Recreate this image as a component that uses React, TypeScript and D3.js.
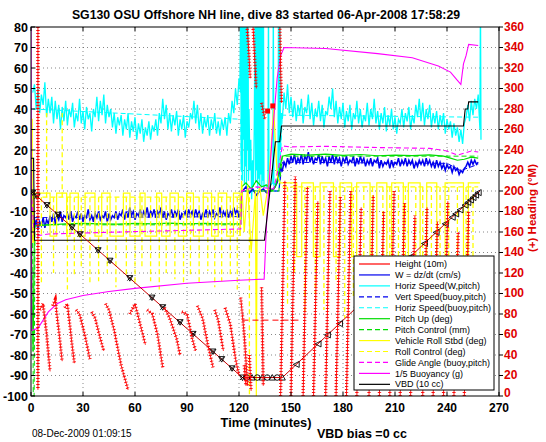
import React from "react";
import * as d3 from "d3";

const FONT = "'Liberation Sans', Arial, Helvetica, sans-serif";

// ---------- axes / ticks ----------
const timeTicks = [0, 30, 60, 90, 120, 150, 180, 210, 240, 270];
const leftTicks = [-100, -90, -80, -70, -60, -50, -40, -30, -20, -10, 0, 10, 20, 30, 40, 50, 60, 70, 80];
const rightTicks = [0, 20, 40, 60, 80, 100, 120, 140, 160, 180, 200, 220, 240, 260, 280, 300, 320, 340, 360];

// ---------- Horiz Speed (W,pitch) cyan, 1-min samples ----------
const hspdDiveStart = 1;
const hspdDive = [48, 52, 40, 50, 38, 47, 42, 53, 36, 45,
  38, 46, 33, 44, 35, 42, 30, 41, 34, 44,
  32, 40, 36, 43, 31, 38, 34, 45, 33, 39,
  30, 41, 35, 38, 29, 40, 36, 46, 34, 44,
  37, 47, 33, 42, 36, 40, 31, 38, 28, 36,
  32, 37, 27, 35, 30, 38, 26, 34, 29, 36,
  25, 33, 28, 35, 24, 31, 27, 34, 25, 32,
  29, 35, 27, 38, 33, 45, 35, 42, 30, 38,
  29, 37, 32, 39, 27, 35, 30, 37, 26, 34,
  31, 38, 35, 44, 33, 42, 30, 38, 28, 36,
  31, 37, 27, 35, 30, 38, 28, 34, 27, 35,
  30, 36, 27, 38, 33, 44, 38, 50, 42, 55, 48];
const hspdApogee: [number, number][] = [[120.5, 50], [121, 95], [121.3, 10], [121.6, 95], [121.9, 5], [122.2, 95], [122.5, 25], [122.8, 95], [123.1, 3], [123.4, 95], [123.7, 12], [124, 95], [124.3, 2], [124.6, 95], [124.9, 20], [125.2, 95], [125.5, 5], [125.8, 40], [126.3, 10], [126.8, 25], [127.3, -4], [127.8, 15], [128.3, 2], [128.8, 30], [129.3, 95], [129.6, 4], [129.9, 95], [130.2, 10], [130.5, 95], [130.8, 1], [131.1, 95], [131.4, 6], [131.7, 95], [132, 3], [132.3, 95], [132.6, 8], [132.9, 95], [133.2, 2], [133.5, 95], [133.8, 5], [134.1, 95], [134.4, 2], [135.5, 3], [136.7, 1], [137, 95], [137.3, 2], [139.5, 4], [139.8, 95], [140.1, 3], [142.5, 5], [142.8, 95], [143.1, 6], [143.6, 95], [143.9, 20], [144.5, 38]];
const hspdClimbStart = 145;
const hspdClimb = [35, 48, 40, 52, 38, 46, 36, 44, 34, 42,
  37, 45, 33, 41, 38, 47, 35, 43, 32, 40,
  36, 44, 34, 42, 31, 39, 37, 46, 40, 50,
  36, 44, 33, 41, 35, 43, 31, 39, 34, 42,
  30, 38, 35, 44, 33, 40, 31, 37, 34, 43,
  32, 40, 35, 45, 33, 39, 30, 38, 33, 41,
  29, 37, 32, 40, 30, 36, 28, 35, 33, 40,
  31, 38, 34, 41, 30, 37, 33, 42, 36, 45,
  34, 43, 32, 40, 35, 42, 31, 38, 33, 39,
  30, 37, 32, 38, 28, 35, 30, 34, 26, 33,
  27, 31, 24, 30, 23, 33, 36, 42, 34, 44,
  37, 45, 40, 47];
const hspdEnd: [number, number][] = [[258, 47], [259, 30], [259.3, 95], [259.6, 25]];

// ---------- W = dz/dt blue ----------
const wStart: [number, number][] = [[0, 0], [1, -5]];
const wDiveStart = 2;
const wDive = [-18, -14, -19, -15, -17, -13, -18, -14, -16, -12,
  -15, -11, -16, -12, -14, -10, -15, -12, -13, -11,
  -14, -10, -15, -12, -13, -10, -14, -11, -15, -12,
  -13, -9, -14, -12, -15, -11, -13, -10, -14, -12,
  -13, -10, -15, -11, -14, -12, -13, -10, -14, -11,
  -12, -9, -14, -10, -13, -8, -12, -10, -14, -11,
  -12, -9, -13, -10, -12, -8, -13, -10, -12, -9,
  -13, -10, -12, -8, -13, -10, -14, -11, -12, -9,
  -13, -10, -12, -9, -14, -11, -12, -10, -13, -9,
  -12, -10, -13, -9, -12, -10, -14, -11, -12, -9,
  -13, -10, -12, -9, -13, -11, -12, -8, -13, -10,
  -12, -9, -13, -10, -12, -8, -11, -9, -13, -10];
const wApogee: [number, number][] = [[121.5, -3], [122, 0], [124, 2], [126, -1], [128, 1], [130, -2], [132, 0], [134, 1], [136, -1], [138, 0], [140, 1], [142, 4], [143, 8], [144, 11]];
const wClimbStart = 145;
const wClimb = [10, 14, 12, 16, 13, 17, 14, 18, 13, 16,
  14, 18, 13, 17, 15, 19, 14, 17, 13, 16,
  15, 18, 13, 17, 14, 16, 12, 17, 14, 18,
  13, 17, 14, 16, 12, 16, 14, 17, 13, 15,
  14, 17, 12, 16, 13, 17, 14, 16, 12, 15,
  13, 16, 12, 15, 14, 16, 11, 15, 12, 14,
  13, 15, 11, 15, 12, 14, 13, 16, 12, 15,
  13, 16, 12, 15, 13, 15, 11, 14, 12, 15,
  13, 15, 12, 16, 13, 15, 12, 14, 11, 15,
  12, 14, 11, 13, 10, 13, 11, 12, 9, 12,
  10, 11, 8, 10, 9, 11, 12, 14, 12, 15,
  13, 15, 13, 14];

// ---------- model (buoy,pitch) speeds, dashed ----------
const vspdBuoyT = [2, 121, 121.5, 143, 145, 240, 248, 258];
const vspdBuoyV = [-13, -12.5, 0, 0, 14, 13.5, 10, 13];
const hspdBuoyT = [1, 121, 121.5, 143, 145, 258];
const hspdBuoyV = [40, 35, 0, 0, 37, 36];

// ---------- pitch ----------
const pitchT = [0, 0.6, 1.2, 2, 10, 20, 30, 40, 50, 60, 70, 80, 90, 100, 110, 121, 121.5, 124, 127, 130, 133, 136, 139, 141, 143, 145, 150, 160, 170, 180, 190, 200, 210, 220, 230, 238, 242, 246, 250, 254, 258];
const pitchV = [0, -50, -78, -17, -16.5, -16, -15.8, -16, -16.2, -15.8, -16, -15.7, -16, -15.8, -16, -16, 2, 4, 1, 5, 2, 3, 0, 2, 9, 17, 18, 17.5, 18, 17.4, 17.8, 17.2, 17.5, 17.3, 17.6, 17, 16, 15, 15.5, 16.5, 16];
const pitchCtlT = [0.8, 1.3, 1.8, 2.3, 121, 121.5, 143, 145, 258];
const pitchCtlV = [-2, -100, -100, -16.5, -16.5, 0, 0, 17, 17];

// ---------- roll ----------
const rollT = [0, 0.7, 1.5, 11, 14.8, 20.6, 22.5, 27.3, 31.2, 36.9, 40.8, 45.6, 53.3, 57.1, 62.9, 65.8, 72.5, 75.4, 80.2, 85, 89.8, 93.7, 99.4, 104.2, 108, 112.9, 116.8, 120.6];
const rollV = [35, -25, -1, -22, -1, -22, -1, -22, -1, -22, -1, -22, -1, -22, -1, -22, -1, -22, -1, -22, -1, -22, -1, -22, -1, -22, -1, -22];
const rollApT = [120.6, 121.5, 123, 125, 127, 129.5, 130, 130.5, 132, 134, 137, 140, 142, 143.5];
const rollApV = [-22, 5, -20, 3, -30, 0, -100, -3, 2, -12, 3, 40, 8, 4];
const rollClT = [143.5, 144.7, 153.3, 156.2, 162.9, 166.8, 174.5, 178.3, 185, 187.9, 195.6, 199.5, 205.3, 208.1, 214.8, 217.7, 224.5, 228.3, 234.1, 238.9, 249.5, 252.3, 259];
const rollClV = [4, 4, -32, 4, -32, 4, -32, 4, -32, 4, -32, 4, -32, 4, -32, 4, -32, 4, -32, 4, -32, 4, 4];
const rollCtlDiveBase = -3;
const rollCtlDiveT = [9, 18, 6, 13, 21, 25, 29, 34, 39, 44, 49, 55, 60, 64, 69, 74, 78, 83, 88, 92, 97, 102, 106, 110, 115, 119, 126];
const rollCtlDiveV = [38, 38, -45, -40, -48, -42, -38, -46, -44, -40, -47, -42, -45, -38, -44, -48, -40, -43, -46, -41, -45, -39, -47, -44, -42, -48, -100];
const rollCtlClimbBase = 2;
const rollCtlClimbT = [148, 152, 158, 164, 169, 176, 181, 186, 192, 197, 203, 207, 212, 216, 222, 226, 231, 236, 241, 246, 251, 255];
const rollCtlClimbV = [-55, -40, -60, -50, -58, -45, -62, -52, -55, -48, -60, -50, -58, -45, -62, -55, -60, -50, -65, -70, -72, -60];

// ---------- glide angle & buoyancy ----------
const glideT = [0, 1, 2, 10, 30, 60, 90, 121, 121.5, 130, 140, 143, 145, 150, 170, 200, 230, 240, 246, 250, 254, 258];
const glideV = [0, -10, -22, -21, -20.5, -19.8, -19.2, -18.5, 0, 2, 1, 12, 22, 21.5, 21.8, 21.2, 20.8, 19.5, 17.5, 18.5, 19.5, 19];
const buoyT = [0, 0.4, 4, 7, 10, 15, 20, 30, 45, 60, 90, 120, 134.5, 136, 139, 142, 144, 146, 170, 200, 220, 235, 242, 246, 248, 249.5, 251, 252.5, 258];
const buoyV = [80, -68, -67, -63, -59, -55, -53, -51, -49, -47.5, -45, -43.5, -43, -14, 25, 55, 66, 70, 69.5, 67, 65, 61, 58, 54, 52, 62, 66, 71.5, 71];

// ---------- VBD ----------
const vbdT = [0, 1.5, 2, 134.7, 141, 143.5, 144.5, 249.5, 250.5, 252, 252.5, 258];
const vbdV = [16, 16, -24, -24, 24, 24, 31.7, 31.7, 40, 40, 43.5, 43.5];

// ---------- height / depth ----------
const heightT = [122, 155];
const heightV = [-63, -63];
const depthT = [0, 122, 145, 259];
const depthV = [0, -91, -91, 0];
const diveMarkT = [1, 3.5, 9.2, 15.6, 23.7, 28.3, 38.7, 45.6, 57, 69.8, 76, 86, 93.5, 105, 110, 116, 122];
const diveMarkV = [-0.7, -2.6, -6.9, -11.6, -17.7, -21.1, -28.9, -34, -42.5, -52, -56.7, -64, -69.7, -78.3, -82, -86.5, -91];
const bottomMarkT = [124.6, 127.5, 130.5, 133.4, 136.3, 139.2, 142, 145];
const bottomMarkV = [-91, -91, -91, -91, -91, -91, -91, -91];
const climbMarkT = [153, 165.6, 171, 178, 188, 197, 209, 218.7, 227, 233.7, 239, 243, 245, 247.5, 250.4, 252, 253.5, 255, 256.5, 258];
const climbMarkV = [-84.6, -74.6, -70.2, -64.7, -56.7, -49.5, -39.9, -32.2, -25.6, -20.2, -16, -12.8, -11.2, -9.2, -6.9, -5.6, -4.4, -3.2, -2, -0.8];

// ---------- heading (deg, right axis), red + markers ----------
const headingTeeth: [number, number][][] = [
  [[4, 360], [4, 6]],
  [[5, 84], [7, 90], [9, 60], [11, 24]],
  [[12.5, 88], [14, 94], [16, 64], [18, 34]],
  [[19.5, 86], [21, 90], [23, 60], [25, 32]],
  [[26, 84], [28, 80], [31, 60], [34, 36]],
  [[35, 82], [37, 76], [40, 56], [42, 44]],
  [[43, 90], [45, 84], [48, 64], [52, 30], [56, 6]],
  [[57, 80], [60, 90], [63, 70], [66, 50]],
  [[67, 84], [70, 80], [73, 60], [76, 28]],
  [[77, 86], [80, 76], [84, 56], [86, 40]],
  [[87, 82], [90, 80], [93, 56], [95, 44]],
  [[96, 88], [99, 76], [102, 50], [105, 28]],
  [[106, 84], [108, 74], [111, 44]],
  [[112, 86], [115, 70], [118, 36], [120, 20]],
  [[121, 96], [123, 60], [125, 10]],
  [[124.5, 364], [125.5, 340], [126.5, 310]],
  [[128, 364], [129, 330], [130, 300]],
  [[133, 286], [135, 270]],
  [[133, 106], [133.5, 60], [134, 10]],
  [[143.5, 364], [144, 320], [144.5, 286]],
  [[123, 30], [124, 10]],
  [[126, 40], [127, 5]],
  [[144, 0], [146.5, 210]],
  [[150, 0], [152.5, 214]],
  [[157, 0], [159.5, 204]],
  [[163, 0], [165.5, 190]],
  [[170, 0], [172.5, 200]],
  [[176, 0], [178.5, 194]],
  [[182, 0], [184.5, 200]],
  [[188, 0], [190.5, 184]],
  [[195, 0], [197.5, 196]],
  [[201, 0], [203.5, 180]],
  [[207, 0], [209.5, 200]],
  [[213, 0], [215.5, 188]],
  [[219, 0], [221.5, 176]],
  [[226, 0], [228.5, 184]],
  [[232, 0], [234.5, 170]],
  [[238, 0], [240.5, 190]],
  [[244, 0], [246.5, 160]],
  [[250, 0], [252.5, 180]],
];
const headingSquaresT = [136.5, 139.5];
const headingSquaresV = [278, 283];

// ---------- legend ----------
const DASH = "5 3";
const legendLabels = ["Height (10m)", "W = dz/dt (cm/s)", "Horiz Speed(W,pitch)", "Vert Speed(buoy,pitch)", "Horiz Speed(buoy,pitch)", "Pitch Up (deg)", "Pitch Control (mm)", "Vehicle Roll Stbd (deg)", "Roll Control (deg)", "Glide Angle (buoy,pitch)", "1/5 Buoyancy (g)", "VBD (10 cc)"];
const legendColors = ["#ff0000", "#0000ee", "#00ffff", "#0000ee", "#00ffff", "#00dd00", "#00dd00", "#ffff00", "#ffff00", "#ff00ff", "#ff00ff", "#000000"];
const legendDashed = [false, false, false, true, true, false, true, false, true, true, false, false];

const L = 31, R = 499, T = 27, B = 396;

export default function App() {
  const x = d3.scaleLinear().domain([0, 270]).range([L, R]);
  const y = d3.scaleLinear().domain([-100, 80]).range([B, T]);
  const yr = d3.scaleLinear().domain([0, 360]).range([B, T]);
  const ln = d3.line<number[]>().x(d => x(d[0])).y(d => y(d[1]));
  const lnStep = d3.line<number[]>().x(d => x(d[0])).y(d => y(d[1])).curve(d3.curveStepAfter);
  const lnR = d3.line<number[]>().x(d => x(d[0])).y(d => yr(d[1]));
  const grid = (t0: number, vals: number[]) => vals.map((v, i) => [t0 + i, v]);
  const zip = (ts: number[], vs: number[]) => ts.map((t, i) => [t, vs[i]]);

  const cyanPts = [...grid(hspdDiveStart, hspdDive), ...hspdApogee, ...grid(hspdClimbStart, hspdClimb), ...hspdEnd];
  const bluePts = [...wStart, ...grid(wDiveStart, wDive), ...wApogee, ...grid(wClimbStart, wClimb)];
  const headingPath = headingTeeth.map(tooth => lnR(tooth)).join(" ");

  const rollCtlSpikes = [
    ...rollCtlDiveT.map((t, i) => ({ t, base: rollCtlDiveBase, v: rollCtlDiveV[i] })),
    ...rollCtlClimbT.map((t, i) => ({ t, base: rollCtlClimbBase, v: rollCtlClimbV[i] })),
  ];

  const triDown = "M-3,-2.5L3,-2.5L0,3Z";
  const xMark = "M-2.5,-2.5L2.5,2.5M2.5,-2.5L-2.5,2.5";
  const triLeft = "M3,-3L3,3L-3,0Z";
  const triUp = "M-3,2.5L3,2.5L0,-3Z";

  const legX = 354, legY = 256, legW = 140, legH = 134;
  const rowH = 10.94;

  return (
    <svg width={546} height={442} style={{ position: "absolute", left: 0, top: 0, background: "#fff" }} fontFamily={FONT}>
      <defs>
        <clipPath id="plot">
          <rect x={L} y={T} width={R - L} height={B - T} />
        </clipPath>
      </defs>
      <rect x={0} y={0} width={546} height={442} fill="#fff" />

      <g stroke="#555" strokeWidth={0.7} strokeDasharray="1 3">
        {leftTicks.filter(v => v > -100 && v < 80).map(v => (
          <line key={"gy" + v} x1={L} x2={R} y1={y(v)} y2={y(v)} />
        ))}
        {timeTicks.filter(t => t > 0 && t < 270).map(t => (
          <line key={"gx" + t} x1={x(t)} x2={x(t)} y1={T} y2={B} />
        ))}
      </g>

      <g clipPath="url(#plot)" fill="none">
        <path d={ln(zip(hspdBuoyT, hspdBuoyV))!} stroke="#00ffff" strokeDasharray={DASH} />
        <path d={ln(zip(vspdBuoyT, vspdBuoyV))!} stroke="#0000ee" strokeDasharray={DASH} />
        <path d={ln(cyanPts)!} stroke="#00ffff" strokeWidth={1.3} />
        <path d={ln(bluePts)!} stroke="#0000ee" strokeWidth={1.5} />
        <path d={ln(zip(pitchCtlT, pitchCtlV))!} stroke="#00dd00" strokeDasharray={DASH} />
        <path d={ln(zip(pitchT, pitchV))!} stroke="#00dd00" strokeWidth={1.2} />
        <path d={lnStep(zip(rollT, rollV))!} stroke="#ffff00" strokeWidth={1.2} />
        <path d={ln(zip(rollApT, rollApV))!} stroke="#ffff00" strokeWidth={1.2} />
        <path d={lnStep(zip(rollClT, rollClV))!} stroke="#ffff00" strokeWidth={1.2} />
        <g stroke="#ffff00" strokeWidth={1.3} strokeDasharray={DASH}>
          <line x1={x(2)} x2={x(121)} y1={y(rollCtlDiveBase)} y2={y(rollCtlDiveBase)} />
          <line x1={x(145)} x2={x(258)} y1={y(rollCtlClimbBase)} y2={y(rollCtlClimbBase)} />
          {rollCtlSpikes.map((s, i) => (
            <line key={"rc" + i} x1={x(s.t)} x2={x(s.t)} y1={y(s.base)} y2={y(s.v)} />
          ))}
        </g>
        <path d={ln(zip(glideT, glideV))!} stroke="#ff00ff" strokeDasharray={DASH} strokeWidth={1.1} />
        <path d={ln(zip(buoyT, buoyV))!} stroke="#ff00ff" strokeWidth={1.1} />
        <path d={ln(zip(vbdT, vbdV))!} stroke="#000" strokeWidth={1.1} />
        <path d={ln(zip(heightT, heightV))!} stroke="#ff0000" strokeDasharray="6 4" />
        <path d={ln(zip(depthT, depthV))!} stroke="#cc0000" strokeWidth={1} />
        <g stroke="#000" strokeWidth={0.9}>
          {diveMarkT.map((t, i) => (
            <g key={"dm" + i} transform={`translate(${x(t)},${y(diveMarkV[i])})`}>
              <path d={triDown} />
              <path d={xMark} />
            </g>
          ))}
          {bottomMarkT.map((t, i) => (
            <g key={"bm" + i} transform={`translate(${x(t)},${y(bottomMarkV[i])})`}>
              {i % 2 === 0 ? <circle r={2.8} /> : <path d={triUp} />}
            </g>
          ))}
          {climbMarkT.map((t, i) => (
            <g key={"cm" + i} transform={`translate(${x(t)},${y(climbMarkV[i])})`}>
              <path d={triLeft} />
            </g>
          ))}
        </g>
        <path d={headingPath} stroke="#ff0000" strokeWidth={3.4} strokeDasharray="0.9 2.1" />
        <path d={headingPath} stroke="#ff0000" strokeWidth={0.9} />
        {headingSquaresT.map((t, i) => (
          <rect key={"hs" + i} x={x(t) - 2.5} y={yr(headingSquaresV[i]) - 2.5} width={5} height={5} fill="#ff0000" />
        ))}
      </g>

      <rect x={L} y={T} width={R - L} height={B - T} fill="none" stroke="#000" strokeWidth={1} />
      <g stroke="#000" strokeWidth={1}>
        {timeTicks.map(t => (
          <g key={"xt" + t}>
            <line x1={x(t)} x2={x(t)} y1={B} y2={B - 4} />
            <line x1={x(t)} x2={x(t)} y1={T} y2={T + 4} />
          </g>
        ))}
        {leftTicks.map(v => (
          <line key={"yt" + v} x1={L} x2={L + 4} y1={y(v)} y2={y(v)} />
        ))}
        {rightTicks.map(v => (
          <line key={"rt" + v} x1={R} x2={R + 4} y1={yr(v)} y2={yr(v)} />
        ))}
      </g>

      <g fontSize={12.5} fontWeight="bold" fill="#000" textAnchor="end">
        {leftTicks.map(v => (
          <text key={"yl" + v} x={28} y={y(v)} dy="0.36em">{v}</text>
        ))}
      </g>
      <g fontSize={12} fontWeight="bold" fill="#000" textAnchor="middle">
        {timeTicks.map(t => (
          <text key={"xl" + t} x={x(t)} y={412}>{t}</text>
        ))}
      </g>
      <g fontSize={12} fontWeight="bold" fill="#e00000" textAnchor="start">
        {rightTicks.map(v => (
          <text key={"rl" + v} x={504} y={yr(v)} dy={v === 0 ? "0.1em" : "0.32em"}>{v}</text>
        ))}
      </g>

      <text x={266} y={19} fontSize={12.3} fontWeight="bold" textAnchor="middle">SG130 OSU Offshore NH line, dive 83 started 06-Apr-2008 17:58:29</text>
      <text x={266} y={427} fontSize={12.8} fontWeight="bold" textAnchor="middle">Time (minutes)</text>
      <text x={536} y={208} fontSize={11.5} fontWeight="bold" fill="#e00000" textAnchor="middle" transform="rotate(-90 536 208)">(+) Heading (°M)</text>
      <text x={32} y={437} fontSize={10}>08-Dec-2009 01:09:15</text>
      <text x={317} y={438} fontSize={12.5} fontWeight="bold">VBD bias =0 cc</text>

      <rect x={legX} y={legY} width={legW} height={legH} fill="#fff" stroke="#000" strokeWidth={1} />
      {legendLabels.map((lab, i) => {
        const cy = legY + 8 + i * rowH;
        return (
          <g key={"lg" + i}>
            <line x1={legX + 5} x2={legX + 36} y1={cy} y2={cy} stroke={legendColors[i]} strokeWidth={1.2} strokeDasharray={legendDashed[i] ? DASH : undefined} />
            <text x={legX + 41} y={cy} dy="0.35em" fontSize={9} fill="#000">{lab}</text>
          </g>
        );
      })}
    </svg>
  );
}
